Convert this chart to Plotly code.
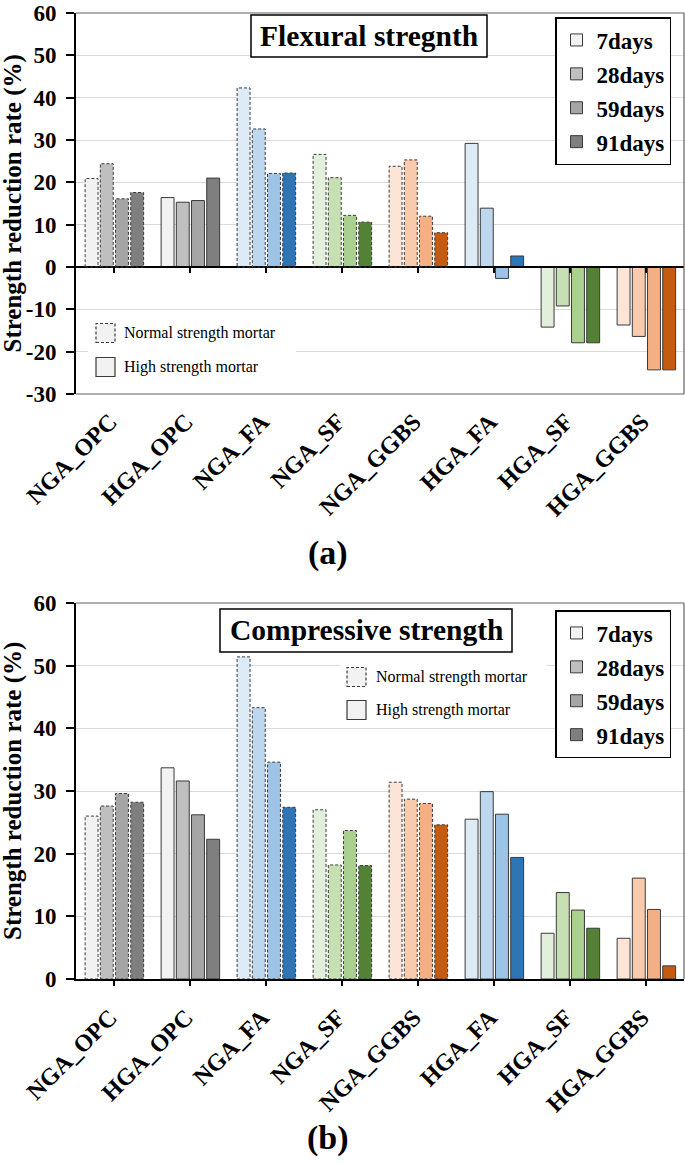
import plotly.graph_objects as go

# ---------------- data ----------------
categories = ["NGA_OPC", "HGA_OPC", "NGA_FA", "NGA_SF", "NGA_GGBS", "HGA_FA", "HGA_SF", "HGA_GGBS"]
day_labels = ["7days", "28days", "59days", "91days"]

flex_7 = [20.9, 16.4, 42.3, 26.6, 23.8, 29.2, -14.2, -13.7]
flex_28 = [24.4, 15.3, 32.6, 21.1, 25.3, 13.9, -9.2, -16.4]
flex_59 = [16.1, 15.7, 22.1, 12.2, 12.0, -2.7, -17.9, -24.3]
flex_91 = [17.6, 21.0, 22.2, 10.6, 8.1, 2.6, -17.9, -24.3]

comp_7 = [26.0, 33.7, 51.4, 27.0, 31.4, 25.5, 7.3, 6.5]
comp_28 = [27.6, 31.6, 43.3, 18.2, 28.7, 29.9, 13.8, 16.1]
comp_59 = [29.6, 26.2, 34.6, 23.7, 28.0, 26.3, 11.0, 11.1]
comp_91 = [28.2, 22.3, 27.4, 18.1, 24.6, 19.4, 8.1, 2.1]

flex_ticks = [-30, -20, -10, 0, 10, 20, 30, 40, 50, 60]
comp_ticks = [0, 10, 20, 30, 40, 50, 60]

# ---------------- style ----------------
FONT = "Liberation Serif, Times New Roman, serif"
palette = {
    "OPC": ["#F2F2F2", "#BFBFBF", "#A5A5A5", "#7F7F7F"],
    "FA": ["#DDEBF7", "#BDD7EE", "#9DC3E6", "#2E75B6"],
    "SF": ["#E2EFDA", "#C6E0B4", "#A9D08E", "#548235"],
    "GGBS": ["#FCE4D6", "#F8CBAD", "#F4B084", "#C55A11"],
}
OUTLINE = "#3A3A3A"
BOX = "#606060"
GRID = "#DADADA"
BAR_W = 0.17
BAR_PITCH = 0.2
BAR_START = -0.38

W, H = 685, 1163
M_L, M_R, M_T, M_B = 76, 1, 13, 184
PW = W - M_L - M_R
PH = H - M_T - M_B


def xp(px):
    return (px - M_L) / PW


def yp(py):
    return (H - M_B - py) / PH


top_dom = [yp(394), yp(M_T)]
bot_dom = [yp(979), yp(603)]

fig = go.Figure()
shapes = []
annotations = []

charts = [
    dict(series=[flex_7, flex_28, flex_59, flex_91], xa="x", ya="y", legend="legend"),
    dict(series=[comp_7, comp_28, comp_59, comp_91], xa="x2", ya="y2", legend="legend2"),
]

for k, ch in enumerate(charts):
    for j, (day, vals) in enumerate(zip(day_labels, ch["series"])):
        colors = [palette[c.split("_")[1]][j] for c in categories]
        lw = [0 if c.startswith("NGA") else 1 for c in categories]
        off = BAR_START + j * BAR_PITCH
        fig.add_trace(go.Bar(
            x=list(range(len(categories))), y=vals, width=BAR_W, offset=off,
            marker=dict(color=colors, line=dict(color=OUTLINE, width=lw)),
            xaxis=ch["xa"], yaxis=ch["ya"], showlegend=False, name=day,
        ))
        # legend entry
        fig.add_trace(go.Bar(
            x=[None], y=[None], name=day,
            marker=dict(color=palette["OPC"][j], line=dict(color=OUTLINE, width=1)),
            xaxis=ch["xa"], yaxis=ch["ya"], legend=ch["legend"], legendgroup=f"g{k}{j}",
            showlegend=True,
        ))
        # dashed outlines for normal strength mortar bars
        for i, (c, v) in enumerate(zip(categories, vals)):
            if c.startswith("NGA"):
                shapes.append(dict(
                    type="rect", xref=ch["xa"], yref=ch["ya"],
                    x0=i + off, x1=i + off + BAR_W, y0=0, y1=v,
                    line=dict(color=OUTLINE, width=1, dash="3px,2px"), layer="above",
                ))

# zero-line axis for top chart (carries the category tick marks)
fig.add_trace(go.Scatter(x=[None], y=[None], xaxis="x3", yaxis="y", showlegend=False))
zero_pos = top_dom[0] + (0 - (-30)) / 90 * (top_dom[1] - top_dom[0])

tick_font = dict(family=FONT, size=23, color="black", weight="bold")
cat_font = dict(family=FONT, size=24, color="black", weight="bold")
cat_axis = dict(
    range=[-0.5, len(categories) - 0.5], tickmode="array",
    tickvals=list(range(len(categories))), ticktext=categories,
    tickangle=-45, tickfont=cat_font, showgrid=False, zeroline=False,
    automargin=False, ticklabelstandoff=8, ticklabelshift=-4,
)
title_font = dict(family=FONT, size=25, color="black", weight="bold")
legend_style = dict(xanchor="left", yanchor="top",
                    bordercolor="black", borderwidth=1.5, bgcolor="white",
                    font=dict(family=FONT, size=23, color="black", weight="bold"),
                    tracegroupgap=1, itemclick=False, itemdoubleclick=False)

fig.update_layout(
    width=W, height=H,
    margin=dict(l=M_L, r=M_R, t=M_T, b=M_B),
    paper_bgcolor="white", plot_bgcolor="white",
    barmode="overlay",
    font=dict(family=FONT, color="black"),
    xaxis=dict(**cat_axis, anchor="y", showline=False, ticks=""),
    xaxis3=dict(range=[-0.5, len(categories) - 0.5], tickmode="array",
                tickvals=list(range(len(categories))), showticklabels=False,
                overlaying="x", anchor="free", position=zero_pos,
                showline=True, linecolor="black", linewidth=2,
                ticks="outside", ticklen=5, tickwidth=1.5, tickcolor="black",
                showgrid=False, zeroline=False),
    xaxis2=dict(**cat_axis, anchor="y2", showline=True, linecolor="black", linewidth=2,
                ticks="outside", ticklen=5, tickwidth=1.5, tickcolor="black"),
    yaxis=dict(domain=top_dom, range=[-30, 60], tickmode="array", tickvals=flex_ticks,
               ticktext=[str(t) for t in flex_ticks], tickfont=tick_font,
               showline=True, linecolor="black", linewidth=2,
               ticks="outside", ticklen=8, tickwidth=1.5, tickcolor="black",
               showgrid=True, gridcolor=GRID, gridwidth=1, zeroline=False,
               automargin=False, ticklabelstandoff=5, ticklabeloverflow="allow"),
    yaxis2=dict(domain=bot_dom, range=[0, 60], tickmode="array", tickvals=comp_ticks,
                ticktext=[str(t) for t in comp_ticks], tickfont=tick_font,
                showline=True, linecolor="black", linewidth=2,
                ticks="outside", ticklen=8, tickwidth=1.5, tickcolor="black",
                showgrid=True, gridcolor=GRID, gridwidth=1, zeroline=False,
                automargin=False, anchor="x2", ticklabelstandoff=5, ticklabeloverflow="allow"),
    legend=dict(x=xp(555), y=yp(17), **legend_style),
    legend2=dict(x=xp(555), y=yp(610), **legend_style),
)

# y-axis titles (placed explicitly at the left edge)
for dom in (top_dom, bot_dom):
    annotations.append(dict(text="Strength reduction rate (%)", xref="paper", yref="paper",
                            x=xp(13), y=(dom[0] + dom[1]) / 2, textangle=-90,
                            xanchor="center", yanchor="middle", showarrow=False,
                            font=title_font))

# plot box lines
for xa, ya, with_bottom in [("x", "y", True), ("x2", "y2", False)]:
    shapes.append(dict(type="line", xref=f"{xa} domain", yref=f"{ya} domain",
                       x0=0, x1=1, y0=1, y1=1, line=dict(color=BOX, width=1.2)))
    shapes.append(dict(type="line", xref=f"{xa} domain", yref=f"{ya} domain",
                       x0=1, x1=1, y0=0, y1=1, line=dict(color=BOX, width=1.2)))
    if with_bottom:
        shapes.append(dict(type="line", xref=f"{xa} domain", yref=f"{ya} domain",
                           x0=0, x1=1, y0=0, y1=0, line=dict(color=BOX, width=1.2)))

# chart titles in boxes
for text, (bx0, bx1, by0, by1) in [("Flexural stregnth", (251, 487, 15, 57)),
                                   ("Compressive strength", (220, 512, 609, 652))]:
    shapes.append(dict(type="rect", xref="paper", yref="paper",
                       x0=xp(bx0), x1=xp(bx1), y0=yp(by1), y1=yp(by0),
                       line=dict(color="black", width=1.5), fillcolor="white", layer="above"))
    annotations.append(dict(text=text, xref="paper", yref="paper",
                            x=xp((bx0 + bx1) / 2), y=yp((by0 + by1) / 2),
                            xanchor="center", yanchor="middle", showarrow=False,
                            font=dict(family=FONT, size=29.5, color="black", weight="bold")))

# mortar-type key
for (bgx0, bgx1, bgy0, bgy1), sq_x, (n_y, h_y), txt_x in [
        ((88, 296, 312, 388), 96, (333, 367), 122),
        ((340, 547, 655, 727), 347, (677, 710), 374)]:
    shapes.append(dict(type="rect", xref="paper", yref="paper",
                       x0=xp(bgx0), x1=xp(bgx1), y0=yp(bgy1), y1=yp(bgy0),
                       line=dict(width=0), fillcolor="white", layer="above"))
    for cy, dash, label in [(n_y, "3px,2px", "Normal strength mortar"),
                            (h_y, "solid", "High strength mortar")]:
        shapes.append(dict(type="rect", xref="paper", yref="paper",
                           x0=xp(sq_x), x1=xp(sq_x + 19), y0=yp(cy + 9.5), y1=yp(cy - 9.5),
                           line=dict(color=OUTLINE, width=1.2, dash=dash),
                           fillcolor="#F2F2F2", layer="above"))
        annotations.append(dict(text=label, xref="paper", yref="paper",
                                x=xp(txt_x), y=yp(cy), xanchor="left", yanchor="middle",
                                showarrow=False,
                                font=dict(family=FONT, size=16, color="black")))

# panel labels
for text, py in [("(a)", 553), ("(b)", 1138)]:
    annotations.append(dict(text=text, xref="paper", yref="paper",
                            x=xp(328), y=yp(py), xanchor="center", yanchor="middle",
                            showarrow=False,
                            font=dict(family=FONT, size=34, color="black", weight="bold")))

fig.update_layout(shapes=shapes, annotations=annotations)
fig.write_html("out.html", config={"displayModeBar": False},
               post_script="document.body.style.margin='0';")
